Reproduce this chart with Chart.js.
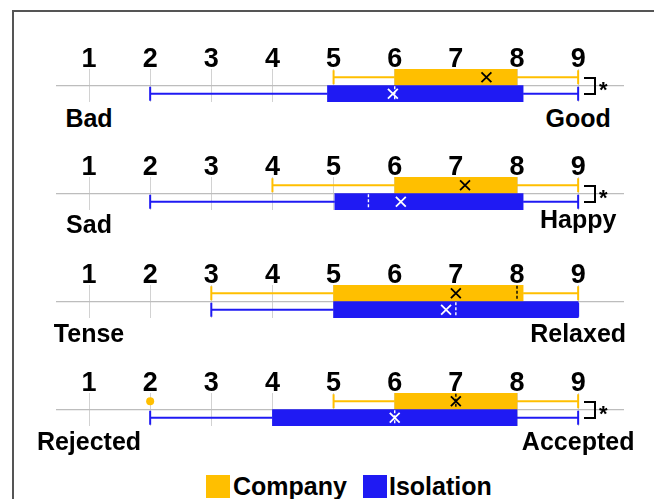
<!DOCTYPE html>
<html>
<head>
<meta charset="utf-8">
<script src="https://cdn.jsdelivr.net/npm/chart.js@4.4.1/dist/chart.umd.min.js"></script>
<style>
  html, body { margin: 0; padding: 0; background: #fff; }
  body { width: 654px; height: 499px; position: relative; overflow: hidden;
         font-family: "Liberation Sans", Arial, sans-serif; }
  #frame { position: absolute; left: 12px; top: 10px; width: 700px; height: 600px;
           border-left: 2px solid #555; border-top: 2px solid #555; }
  canvas.panel { position: absolute; left: 0; }
  .anchor { position: absolute; font-weight: bold; font-size: 25px; color: #000;
            transform: translate(-50%, -50%); white-space: nowrap; line-height: 1; }
  .bracket { position: absolute; width: 12px; border: 2px solid #000; border-left: none; box-sizing: border-box; }
  .star { position: absolute; font-weight: bold; font-size: 22px; line-height: 1; color: #000; }
  .legend { position: absolute; top: 475px; height: 23px; }
  .legend .sw { position: absolute; top: 0; width: 24px; height: 23px; }
  .legend .tx { position: absolute; top: 0; font-weight: bold; font-size: 25px; line-height: 23px; white-space: nowrap; }
</style>
</head>
<body>
<div id="frame"></div>
<div id="root"></div>
<script>
// Rating scale shown above every item
const scaleTicks = [1, 2, 3, 4, 5, 6, 7, 8, 9];
const groups = ['Company', 'Isolation'];
const leftAnchors = ['Bad', 'Sad', 'Tense', 'Rejected'];
const rightAnchors = ['Good', 'Happy', 'Relaxed', 'Accepted'];

// Company condition: box-plot summaries per item
const companyMin = [5, 4, 3, 5];
const companyQ1 = [6, 6, 5, 6];
const companyMedian = [null, null, 8, 7];
const companyQ3 = [8, 8, 8.1, 8];
const companyMax = [9, 9, 9, 9];
const companyMean = [7.5, 7.15, 7, 7];
const companyOutliers = [[], [], [], [2]];

// Isolation condition: box-plot summaries per item
const isolationMin = [2, 2, 3, 2];
const isolationQ1 = [4.9, 5.02, 5, 4];
const isolationMedian = [6, 5.57, 7, 6];
const isolationQ3 = [8.1, 8.1, 9, 8];
const isolationMax = [9, 9, 9, 9];
const isolationMean = [5.97, 6.1, 6.84, 6];
const isolationOutliers = [[], [], [], []];

// Items with a significant Company vs Isolation difference
const significant = [true, true, false, true];

const ORANGE = '#FFBF00';
const BLUE = '#1F1AF3';
const GRID = '#d2d2d2';
const AXIS = '#bdbdbd';

const X_MIN = 0.46, X_MAX = 9.75;
const PAD_L = 56, PAD_R = 30, PAD_T = 4, PAD_B = 1, AXIS_H = 22, AREA_H = 33;
const areaTops = [69, 177, 285, 393];
const leftAnchorY = [118, 224, 333, 441];
const rightAnchorY = [118, 219, 333, 441];

const root = document.getElementById('root');

function xPix(v) {
  return PAD_L + (v - X_MIN) / (X_MAX - X_MIN) * (654 - PAD_L - PAD_R);
}

function buildPanel(i) {
  const top = areaTops[i];
  const canvas = document.createElement('canvas');
  canvas.className = 'panel';
  canvas.width = 654;
  canvas.height = PAD_T + AXIS_H + AREA_H + PAD_B;
  canvas.style.top = (top - PAD_T - AXIS_H) + 'px';
  root.appendChild(canvas);

  const series = [
    { color: ORANGE, ink: '#000', min: companyMin[i], q1: companyQ1[i], med: companyMedian[i],
      q3: companyQ3[i], max: companyMax[i], mean: companyMean[i], out: companyOutliers[i] },
    { color: BLUE, ink: '#fff', min: isolationMin[i], q1: isolationQ1[i], med: isolationMedian[i],
      q3: isolationQ3[i], max: isolationMax[i], mean: isolationMean[i], out: isolationOutliers[i] }
  ];
  const rowY = g => g + 0.5;

  const datasets = [];
  // boxes (Q1..Q3)
  datasets.push({
    type: 'bar', label: 'box',
    data: series.map((s, g) => ({ x: [s.q1, s.q3], y: rowY(g) })),
    backgroundColor: series.map(s => s.color),
    borderWidth: 0, grouped: false, barPercentage: 1, categoryPercentage: 1, order: 5
  });
  // whiskers
  datasets.push({
    type: 'bar', label: 'whisker-low',
    data: series.map((s, g) => ({ x: [s.min, s.q1], y: rowY(g) })),
    backgroundColor: series.map(s => s.color),
    borderWidth: 0, grouped: false, maxBarThickness: 2, order: 6
  });
  datasets.push({
    type: 'bar', label: 'whisker-high',
    data: series.map((s, g) => ({ x: [s.q3, s.max], y: rowY(g) })),
    backgroundColor: series.map(s => s.color),
    borderWidth: 0, grouped: false, maxBarThickness: 2, order: 6
  });
  // whisker caps
  const caps = [], capColors = [];
  series.forEach((s, g) => {
    caps.push({ x: s.min, y: rowY(g) }, { x: s.max, y: rowY(g) });
    capColors.push(s.color, s.color);
  });
  datasets.push({
    type: 'scatter', label: 'caps', data: caps,
    pointStyle: 'line', rotation: 90, pointRadius: 7, pointBorderWidth: 2,
    borderColor: capColors, backgroundColor: capColors, order: 4
  });
  // medians (dashed)
  series.forEach((s, g) => {
    if (s.med === null) return;
    datasets.push({
      type: 'line', label: 'median-' + groups[g],
      data: [{ x: s.med, y: g + 0.04 }, { x: s.med, y: g + 0.96 }],
      borderColor: s.ink, borderWidth: 1.4, borderDash: [3, 2],
      pointRadius: 0, fill: false, order: 2
    });
  });
  // means
  datasets.push({
    type: 'scatter', label: 'mean',
    data: series.map((s, g) => ({ x: s.mean, y: rowY(g) })),
    pointStyle: 'crossRot', pointRadius: 7, pointBorderWidth: 1.8,
    borderColor: series.map(s => s.ink), backgroundColor: series.map(s => s.ink), order: 1
  });
  // outliers
  const outs = [], outColors = [];
  series.forEach((s, g) => s.out.forEach(v => { outs.push({ x: v, y: rowY(g) }); outColors.push(s.color); }));
  datasets.push({
    type: 'scatter', label: 'outliers', data: outs,
    pointStyle: 'circle', pointRadius: 4, pointBorderWidth: 0,
    backgroundColor: outColors, borderColor: outColors, order: 1
  });

  new Chart(canvas, {
    type: 'bar',
    data: { datasets },
    options: {
      indexAxis: 'y',
      responsive: false,
      animation: false,
      events: [],
      layout: { autoPadding: false, padding: { left: PAD_L, right: PAD_R, top: PAD_T, bottom: PAD_B } },
      plugins: { legend: { display: false }, tooltip: { enabled: false } },
      scales: {
        x: {
          type: 'linear', position: 'top', min: X_MIN, max: X_MAX, offset: false,
          afterBuildTicks: sc => { sc.ticks = scaleTicks.map(v => ({ value: v })); },
          afterFit: sc => { sc.height = AXIS_H; },
          ticks: {
            color: '#000', padding: -4, autoSkip: false, maxRotation: 0,
            font: { family: '"Liberation Sans", Arial, sans-serif', weight: 'bold', size: 27, lineHeight: 1 }
          },
          grid: { color: GRID, lineWidth: 1, drawTicks: false },
          border: { display: false }
        },
        y: {
          type: 'linear', min: 0, max: 2, reverse: true, offset: false,
          afterFit: sc => { sc.width = 0; },
          ticks: { display: false, stepSize: 1 },
          grid: {
            offset: false, drawTicks: false, lineWidth: 1.2,
            color: ctx => (ctx.tick && ctx.tick.value === 1) ? AXIS : 'rgba(0,0,0,0)'
          },
          border: { display: false }
        }
      }
    }
  });

  // end anchors of the scale
  const l = document.createElement('div');
  l.className = 'anchor'; l.textContent = leftAnchors[i];
  l.style.left = xPix(scaleTicks[0]) + 'px'; l.style.top = leftAnchorY[i] + 'px';
  root.appendChild(l);
  const r = document.createElement('div');
  r.className = 'anchor'; r.textContent = rightAnchors[i];
  r.style.left = xPix(scaleTicks[scaleTicks.length - 1]) + 'px'; r.style.top = rightAnchorY[i] + 'px';
  root.appendChild(r);

  // significance marker
  if (significant[i]) {
    const b = document.createElement('div');
    b.className = 'bracket';
    b.style.left = '584px'; b.style.top = (top + 8) + 'px'; b.style.height = '18px';
    root.appendChild(b);
    const st = document.createElement('div');
    st.className = 'star'; st.textContent = '*';
    st.style.left = '599px'; st.style.top = (top + 10) + 'px';
    root.appendChild(st);
  }
}

for (let i = 0; i < leftAnchors.length; i++) buildPanel(i);

// legend
const legend = document.createElement('div');
legend.className = 'legend';
legend.style.left = '0px';
[[groups[0], ORANGE, 206, 233], [groups[1], BLUE, 363, 389]].forEach(([name, col, sx, tx]) => {
  const sw = document.createElement('div');
  sw.className = 'sw'; sw.style.left = sx + 'px'; sw.style.background = col;
  legend.appendChild(sw);
  const t = document.createElement('div');
  t.className = 'tx'; t.style.left = tx + 'px'; t.textContent = name;
  legend.appendChild(t);
});
document.body.appendChild(legend);
</script>
</body>
</html>
